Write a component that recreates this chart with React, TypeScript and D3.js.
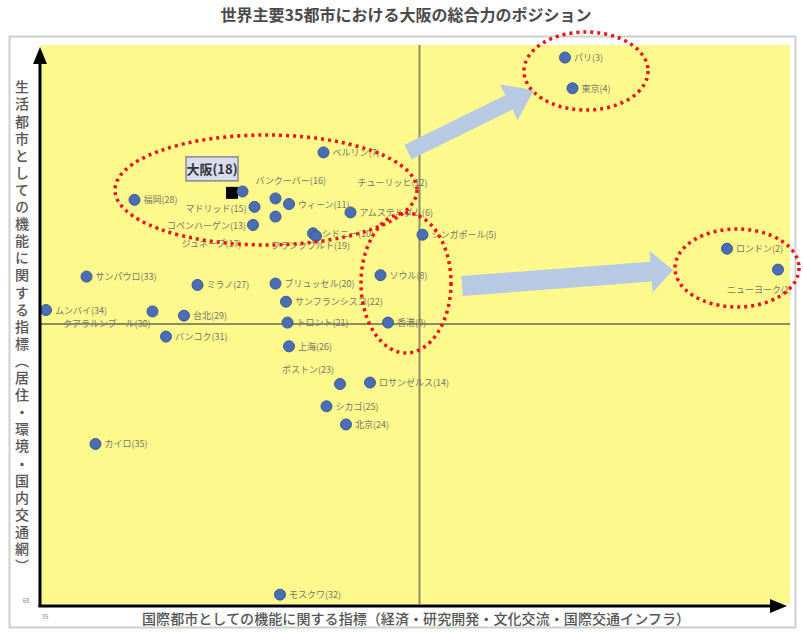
import React, { useEffect } from 'react';
import * as d3 from 'd3';

// 都市名・順位・スコア
const cities = [
  'パリ', '東京', 'ベルリン', '福岡', '大阪', 'バンクーバー', 'マドリッド', 'チューリッヒ',
  'ウィーン', 'ジュネーブ', 'コペンハーゲン', 'アムステルダム', 'シドニー', 'フランクフルト',
  'シンガポール', 'ロンドン', 'ニューヨーク', 'サンパウロ', 'ミラノ', 'ブリュッセル', 'ソウル',
  'サンフランシスコ', 'ムンバイ', 'クアラルンプール', '台北', 'トロント', '香港', 'バンコク',
  '上海', 'ボストン', 'ロサンゼルス', 'シカゴ', '北京', 'カイロ', 'モスクワ'
];
const ranks = [3, 4, 7, 28, 18, 16, 15, 12, 11, 17, 13, 6, 10, 19, 5, 2, 1, 33, 27, 20, 8, 22, 34, 30, 29, 21, 9, 31, 26, 23, 14, 25, 24, 35, 32];
const xScores = [70.0, 70.5, 53.9, 41.3, 47.8, 48.5, 49.3, 50.7, 51.6, 50.7, 49.2, 55.7, 53.2, 53.4, 60.5, 80.8, 84.2, 38.1, 45.5, 50.7, 57.7, 51.4, 35.4, 42.5, 44.6, 51.5, 58.2, 43.4, 51.6, 55.0, 57.0, 54.1, 55.4, 38.7, 51.0];
const yScores = [107.1, 104.9, 100.3, 96.9, 97.4, 97.5, 96.4, 97.0, 96.6, 95.7, 95.1, 96.0, 94.5, 94.3, 94.4, 93.4, 91.9, 91.4, 90.8, 90.9, 91.5, 89.6, 89.0, 88.9, 88.6, 88.1, 88.1, 87.1, 86.4, 83.7, 83.8, 82.1, 80.8, 79.4, 68.6];

const xDomain = [35, 85];
const yDomain = [68, 108];
const xMid = 60.3;
const yMid = 88;
const highlight = '大阪';

// ラベル位置（dx, dy, anchor）— 既定は点の右
const labelPlacement: Record<string, [number, number, string]> = {
  'バンクーバー': [13, -7, 'start'],
  'マドリッド': [-8, 5, 'end'],
  'チューリッヒ': [82, -12, 'start'],
  'コペンハーゲン': [-7, 4, 'end'],
  'ジュネーブ': [-34, 30, 'end'],
  'フランクフルト': [-45, 13, 'start'],
  'ニューヨーク': [14, 23, 'end'],
  'ボストン': [-6, -11, 'end'],
  'クアラルンプール': [-2, 16, 'end'],
};

function arrowPoints(x1: number, y1: number, x2: number, y2: number, sw: number, hw: number, hl: number) {
  const a = Math.atan2(y2 - y1, x2 - x1);
  const len = Math.hypot(x2 - x1, y2 - y1);
  const c = Math.cos(a), s = Math.sin(a);
  const p = (u: number, v: number) => [x1 + u * c - v * s, y1 + u * s + v * c].map(n => n.toFixed(1)).join(',');
  return [p(0, -sw / 2), p(len - hl, -sw / 2), p(len - hl, -hw / 2), p(len, 0), p(len - hl, hw / 2), p(len - hl, sw / 2), p(0, sw / 2)].join(' ');
}

export default function App() {
  useEffect(() => { document.body.style.margin = '0'; }, []);
  const W = 803, H = 632;
  const left = 40, right = 790, top = 45, bottom = 604;
  const x = d3.scaleLinear().domain(xDomain).range([left, right]);
  const y = d3.scaleLinear().domain(yDomain).range([bottom - 1, top]);
  const font = '"Noto Sans CJK JP", sans-serif';
  const yTitle = '生活都市としての機能に関する指標（居住・環境・国内交通網）';
  const xTitle = '国際都市としての機能に関する指標（経済・研究開発・文化交流・国際交通インフラ）';

  const pts = cities.map((c, i) => ({ name: c, rank: ranks[i], px: x(xScores[i]), py: y(yScores[i]) }));
  const osaka = pts.find(p => p.name === highlight)!;

  return (
    <svg width={W} height={H} style={{ display: 'block', fontFamily: font, background: '#fff' }}>
      <defs>
        <clipPath id="plotClip"><rect x={left} y={top} width={right - left} height={bottom - top} /></clipPath>
      </defs>
      <text x={406} y={21} textAnchor="middle" fontSize={16} fontWeight="bold" fill="#4a4a4a">世界主要35都市における大阪の総合力のポジション</text>
      <rect x={9.5} y={36.5} width={786} height={591} fill="none" stroke="#cfcfcf" strokeWidth={2} />
      <rect x={left} y={top} width={right - left} height={bottom - top} fill="#fdf98c" />
      <line x1={left} x2={right} y1={y(yMid)} y2={y(yMid)} stroke="#8f8b6a" strokeWidth={2} />
      <line x1={x(xMid)} x2={x(xMid)} y1={top} y2={bottom} stroke="#8f8b6a" strokeWidth={2} />

      {/* 大阪 */}
      <rect x={osaka.px - 6} y={osaka.py - 6} width={12} height={12} fill="#000" />
      <g>
        {pts.filter(p => p.name !== highlight).map(p => (
          <circle key={p.name} cx={p.px} cy={p.py} r={5.5} fill="#4b6db4" stroke="#3a5796" strokeWidth={1} />
        ))}
      </g>
      <g clipPath="url(#plotClip)" fontSize={9} fill="#77766a">
        {pts.filter(p => p.name !== highlight).map(p => {
          const pl = labelPlacement[p.name] || [9, 3.5, 'start'];
          return (
            <text key={p.name} x={p.px + pl[0]} y={p.py + pl[1]} textAnchor={pl[2]}>{`${p.name}(${p.rank})`}</text>
          );
        })}
      </g>
      <rect x={osaka.px - 46} y={osaka.py - 36} width={52} height={24} fill="#d8def0" stroke="#8a8a8a" strokeWidth={1.5} />
      <text x={osaka.px - 20} y={osaka.py - 19} textAnchor="middle" fontSize={13} fontWeight="bold" fill="#333">{`${highlight}(${osaka.rank})`}</text>

      {/* 吹き出し矢印 */}
      <polygon points={arrowPoints(408, 152, 534, 90, 16, 40, 28)} fill="#b7c9e3" />
      <polygon points={arrowPoints(462, 286, 673, 270, 20, 42, 22)} fill="#b7c9e3" />

      {/* 赤い点線の楕円 */}
      <g fill="none" stroke="#e8131b" strokeWidth={3.5} strokeDasharray="3 4">
        <ellipse cx={266} cy={190} rx={151} ry={55} />
        <ellipse cx={586} cy={71} rx={62} ry={39} />
        <ellipse cx={406} cy={283} rx={45} ry={70} />
        <ellipse cx={737} cy={268} rx={62} ry={39} />
      </g>

      {/* 軸矢印 */}
      <line x1={40} x2={40} y1={607} y2={60} stroke="#000" strokeWidth={3} />
      <polygon points="40,47 33,64 47,64" fill="#000" />
      <line x1={38.5} x2={772} y1={606} y2={606} stroke="#000" strokeWidth={3} />
      <polygon points="787,606 770,599 770,613" fill="#000" />
      <text x={26} y={603} fontSize={6} fill="#888" textAnchor="middle">{yDomain[0]}</text>
      <text x={45} y={619} fontSize={6} fill="#888" textAnchor="middle">{xDomain[0]}</text>

      <text x={22} y={80} fontSize={14} fontWeight={500} fill="#555" style={{ writingMode: 'vertical-rl' }} letterSpacing={3.1}>{yTitle}</text>
      <text x={416} y={624} textAnchor="middle" fontSize={14} fontWeight={500} fill="#555" textLength={548}>{xTitle}</text>
    </svg>
  );
}
